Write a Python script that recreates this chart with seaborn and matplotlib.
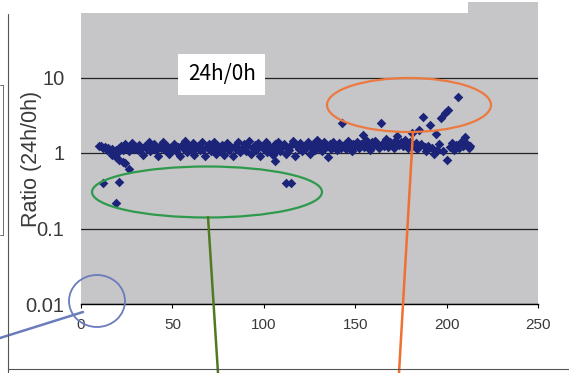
# Scatter of 24h/0h ratio per sample, log scale, with scanned-page annotations
import matplotlib
matplotlib.use("Agg")
import matplotlib.pyplot as plt
from matplotlib.patches import Ellipse, Rectangle
from matplotlib.lines import Line2D
import pandas as pd
import seaborn as sns

# Main band of samples (one ratio per sample number 10..213)
sample_id = list(range(10, 214))
ratio = [1.22, 1.25, 1.15, 1.20, 1.10, 1.18, 1.05, 1.12, 0.98, 1.08,
         1.02, 1.15, 1.25, 1.10, 1.30, 1.18, 1.05, 1.22, 1.35, 1.12,
         1.20, 1.08, 1.28, 1.15, 0.95, 1.25, 1.12, 1.38, 1.05, 1.18,
         1.30, 1.10, 0.92, 1.22, 1.15, 1.40, 1.08, 1.25, 0.98, 1.18,
         1.12, 1.32, 1.05, 1.20, 0.90, 1.28, 1.15, 1.45, 1.02, 1.22,
         1.10, 1.35, 0.95, 1.18, 1.25, 1.08, 1.42, 1.12, 0.92, 1.20,
         1.30, 1.05, 1.15, 1.38, 0.98, 1.22, 1.10, 1.28, 0.95, 1.18,
         1.35, 1.08, 1.20, 0.92, 1.25, 1.12, 1.40, 1.02, 1.18, 1.30,
         1.05, 1.22, 1.45, 0.98, 1.15, 1.28, 1.08, 1.35, 0.90, 1.20,
         1.12, 1.38, 1.02, 1.25, 1.15, 0.95, 1.30, 1.10, 1.42, 1.05,
         1.20, 1.32, 0.98, 1.18, 1.08, 1.28, 1.45, 0.92, 1.22, 1.12,
         1.35, 1.05, 1.25, 1.15, 1.40, 0.98, 1.20, 1.30, 1.10, 1.48,
         1.15, 1.25, 1.05, 1.38, 1.20, 0.88, 1.30, 1.12, 1.42, 1.22,
         1.08, 1.35, 1.18, 2.50, 1.28, 1.12, 1.45, 1.22, 1.05, 1.32,
         1.25, 1.40, 1.15, 1.30, 1.73, 1.20, 1.48, 1.28, 1.10, 1.38,
         1.22, 1.45, 1.32, 1.18, 2.50, 1.35, 1.25, 1.55, 1.20, 1.40,
         1.30, 1.15, 1.45, 1.68, 1.28, 1.38, 1.22, 1.50, 1.32, 1.18,
         1.42, 1.84, 1.25, 1.35, 1.12, 2.00, 1.30, 3.00, 1.20, 1.05,
         1.25, 2.35, 1.15, 0.98, 1.80, 1.10, 1.30, 2.90, 1.05, 3.40,
         0.81, 3.70, 1.20, 1.35, 1.10, 1.28, 5.50, 1.15, 1.40, 1.22,
         1.63, 1.30, 1.18, 1.25]

# Extra points: the falling trail at the start and the low outliers
extra_id = [17, 19, 21, 23, 24, 26, 12, 21, 19, 106, 112, 115]
extra_ratio = [0.95, 0.88, 0.80, 0.76, 0.74, 0.61, 0.40, 0.41, 0.22, 0.78, 0.40, 0.40]

y_ticks = [0.01, 0.1, 1, 10]
y_labels = ["0.01", "0.1", "1", "10"]
x_ticks = [0, 50, 100, 150, 200, 250]

df = pd.DataFrame({"Sample": sample_id + extra_id, "Ratio": ratio + extra_ratio})

sns.set_style("white", {"axes.facecolor": "#c6c5c8"})
plt.rcParams["font.family"] = ["Liberation Sans", "DejaVu Sans"]

fig = plt.figure(figsize=(5.69, 3.73), dpi=100)
ax = fig.add_axes([81 / 569, 1 - 304 / 373, 457 / 569, 302 / 373])

sns.scatterplot(data=df, x="Sample", y="Ratio", ax=ax, marker="D", s=24,
                color="#1b2479", linewidth=0, zorder=3)

ax.set_yscale("log")
ax.set_ylim(0.01, 100)
ax.set_xlim(0, 250)
ax.set_yticks(y_ticks)
ax.set_yticklabels(y_labels, fontsize=14.5, color="#3a3a3a")
ax.minorticks_off()
ax.set_xticks(x_ticks)
ax.set_xticklabels([str(v) for v in x_ticks], fontsize=11, color="#3a3a3a")
ax.tick_params(axis="y", length=0, pad=12)
ax.tick_params(axis="x", direction="out", length=3, width=0.8, color="black", pad=7, bottom=True)
ax.grid(axis="y", color="#222222", linewidth=0.9)
ax.grid(axis="x", visible=False)
ax.set_axisbelow(True)
for side in ["top", "right", "left"]:
    ax.spines[side].set_visible(False)
ax.spines["bottom"].set_color("black")
ax.spines["bottom"].set_linewidth(1.0)

ax.set_xlabel("")
ax.set_ylabel("Ratio (24h/0h)", fontsize=15.5, color="#3a3a3a")
ax.yaxis.set_label_coords(-0.085, 0.48)

# boxed title inside the plot
ax.text(0.308, 0.76, "24h/0h", transform=ax.transAxes, fontsize=15, ha="center", va="center",
        color="black", zorder=5, family=["Noto Sans CJK JP", "DejaVu Sans"],
        bbox=dict(boxstyle="square,pad=0.45", facecolor="white", edgecolor="none"))

# page annotations drawn in pixel units (inches = px / 100)
H = 3.73
tr = fig.dpi_scale_trans
def px(x, y):
    return x / 100, H - y / 100

fig.patches.append(Rectangle(px(0, 13), 4.68, 0.13, transform=tr, facecolor="white",
                             edgecolor="none", zorder=10))
fig.patches.append(Ellipse(px(207, 192), 2.30, 0.51, transform=tr, fill=False,
                           edgecolor="#2e9a4c", linewidth=1.6, zorder=11))
fig.patches.append(Ellipse(px(409, 105), 1.64, 0.54, transform=tr, fill=False,
                           edgecolor="#ec7a40", linewidth=1.6, zorder=11))
fig.patches.append(Ellipse(px(97, 301), 0.56, 0.52, transform=tr, fill=False,
                           edgecolor="#6a7cbc", linewidth=1.3, zorder=11))

lines = [((208, 217), (218, 373), "#4f7a22", 1.8),
         ((413, 132), (399, 373), "#ef7030", 1.8),
         ((83, 312), (0, 338), "#6a7cbc", 1.8),
         ((8, 14), (8, 373), "#555555", 0.8),
         ((8, 369), (569, 369), "#555555", 0.8),
         ((0, 85), (3, 85), "#555555", 0.6),
         ((3, 85), (3, 235), "#555555", 0.6),
         ((0, 235), (3, 235), "#555555", 0.6)]
for p0, p1, col, lw in lines:
    a, b = px(*p0), px(*p1)
    fig.lines.append(Line2D([a[0], b[0]], [a[1], b[1]], transform=tr, color=col,
                            linewidth=lw, zorder=12))

fig.savefig("out.png", dpi=100)
